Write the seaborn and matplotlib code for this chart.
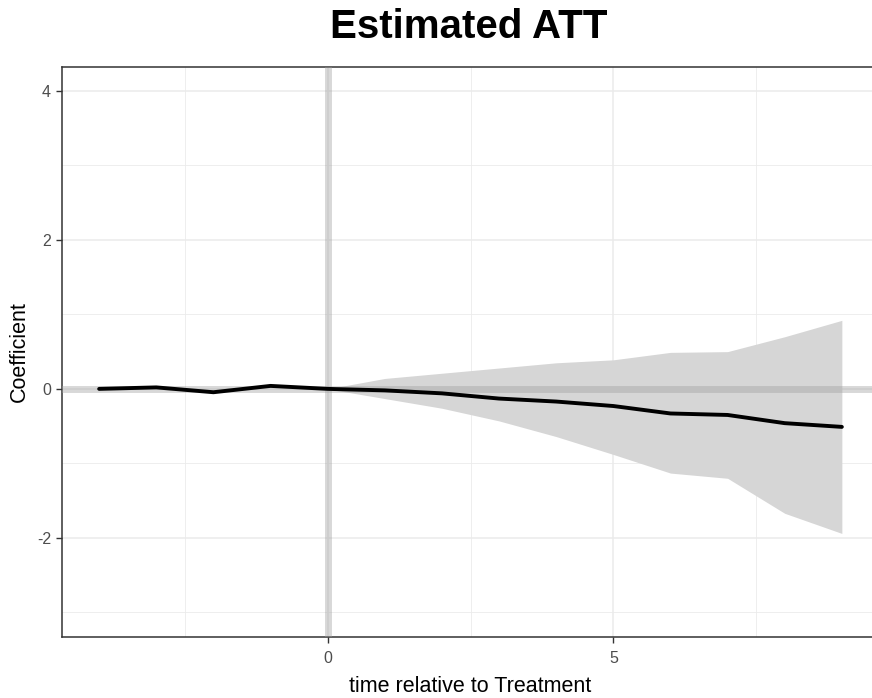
import matplotlib
matplotlib.use("Agg")
import matplotlib.pyplot as plt
from matplotlib.ticker import MultipleLocator
import numpy as np
import pandas as pd
import seaborn as sns

# Event-study estimates
rel_time = [-4, -3, -2, -1, 0, 1, 2, 3, 4, 5, 6, 7, 8, 9]
coef = [0.0, 0.02, -0.045, 0.04, 0.0, -0.02, -0.06, -0.13, -0.17, -0.23, -0.33, -0.35, -0.46, -0.51]

# Confidence band, post-treatment periods
band_time = [0, 1, 2, 3, 4, 5, 6, 7, 8, 9]
band_upper = [0.0, 0.14, 0.21, 0.28, 0.35, 0.39, 0.49, 0.50, 0.70, 0.92]
band_lower = [0.0, -0.13, -0.26, -0.43, -0.64, -0.88, -1.13, -1.20, -1.67, -1.94]

y_ticks = [-2, 0, 2, 4]
x_ticks = [0, 5]

df = pd.DataFrame({"time": rel_time, "coef": coef})
band = pd.DataFrame({"time": band_time, "lo": band_lower, "hi": band_upper})

sns.set_theme(style="white")
plt.rcParams["font.family"] = ["Liberation Sans", "DejaVu Sans"]
plt.rcParams["axes.unicode_minus"] = False

fig = plt.figure(figsize=(8.72, 6.98), dpi=100)
ax = fig.add_axes([62 / 872, 1 - 637 / 698, (879 - 62) / 872, (637 - 67) / 698])

ax.set_xlim(-4.65, 9.65)
ax.set_ylim(-3.33, 4.32)

# grid
ax.xaxis.set_minor_locator(MultipleLocator(2.5))
ax.set_xticks(x_ticks)
ax.set_yticks(y_ticks)
ax.yaxis.set_minor_locator(MultipleLocator(1))
ax.grid(which="major", color="#EBEBEB", linewidth=1.1)
ax.grid(which="minor", color="#EBEBEB", linewidth=0.6)
ax.set_axisbelow(True)

ax.fill_between(band["time"], band["lo"], band["hi"], color="#D6D6D6", linewidth=0, zorder=2)
ax.axhline(0, color="#9E9E9E", alpha=0.4, linewidth=5, zorder=3)
ax.axvline(0, color="#9E9E9E", alpha=0.4, linewidth=5, zorder=3)

sns.lineplot(data=df, x="time", y="coef", color="black", linewidth=2.8, ax=ax, zorder=4)

for side in ["left", "bottom", "top"]:
    ax.spines[side].set_color("#333333")
    ax.spines[side].set_linewidth(1.1)
ax.spines["right"].set_visible(False)

ax.tick_params(axis="both", which="major", length=4, width=1, color="#333333",
               labelcolor="#4D4D4D", labelsize=11.5, bottom=True, left=True, pad=4)
ax.tick_params(axis="x", which="major", pad=6)
ax.tick_params(axis="both", which="minor", length=0)

ax.set_xlabel("time relative to Treatment", fontsize=15.5, color="black", labelpad=7)
ax.set_ylabel("Coefficient", fontsize=15.5, color="black", labelpad=5)

fig.text(469 / 872, 1 - 27 / 698, "Estimated ATT", ha="center", va="center",
         fontsize=29, fontweight="bold", color="black")

fig.savefig("out.png", dpi=100)
